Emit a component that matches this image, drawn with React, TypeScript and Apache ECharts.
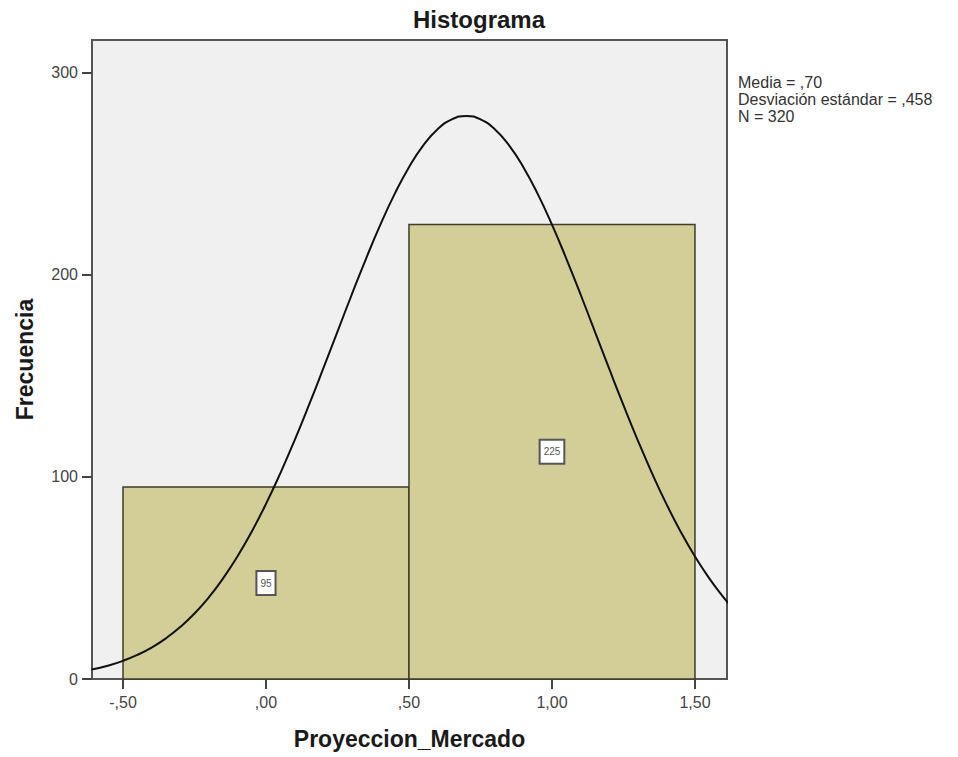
import React, { useEffect, useRef } from "react";
import * as echarts from "echarts";

const binStarts = [-0.5, 0.5];
const binEnds = [0.5, 1.5];
const counts = [95, 225];

const curveX = [
  -0.61, -0.55, -0.5, -0.45, -0.4, -0.35, -0.3, -0.25, -0.2, -0.15, -0.1, -0.05, 0, 0.05, 0.1, 0.15, 0.2, 0.25,
  0.3, 0.35, 0.4, 0.45, 0.5, 0.55, 0.6, 0.65, 0.7, 0.75, 0.8, 0.85, 0.9, 0.95, 1.0, 1.05, 1.1, 1.15, 1.2, 1.25,
  1.3, 1.35, 1.4, 1.45, 1.5, 1.55, 1.6, 1.62,
];
const curveY = [
  4.66, 6.72, 9.0, 11.91, 15.58, 20.13, 25.7, 32.42, 40.42, 49.8, 60.62, 72.92, 86.67, 101.8, 118.15, 135.52,
  153.58, 171.99, 190.33, 208.13, 224.9, 240.12, 253.35, 264.15, 272.14, 277.04, 278.7, 277.04, 272.14, 264.15,
  253.35, 240.12, 224.9, 208.13, 190.33, 171.99, 153.58, 135.52, 118.15, 101.8, 86.67, 72.92, 60.62, 49.8,
  40.42, 37.06,
];

const xTickValues = [-0.5, 0, 0.5, 1, 1.5];
const xTickLabels = ["-,50", ",00", ",50", "1,00", "1,50"];
const yTickValues = [0, 100, 200, 300];
const yTickLabels = ["0", "100", "200", "300"];

const statsLines = ["Media = ,70", "Desviación estándar = ,458", "N = 320"];

const titleText = "Histograma";
const xName = "Proyeccion_Mercado";
const yName = "Frecuencia";

const FONT = "'Liberation Sans', Arial, sans-serif";

export default function App() {
  const ref = useRef<HTMLDivElement>(null);
  useEffect(() => {
    if (!ref.current) return;
    const chart = echarts.init(ref.current, undefined, { renderer: "svg" });
    const binData = binStarts.map((s, i) => [s, binEnds[i], counts[i]]);
    const curveData = curveX.map((x, i) => [x, curveY[i]]);
    chart.setOption({
      animation: false,
      backgroundColor: "#ffffff",
      textStyle: { fontFamily: FONT },
      title: {
        text: titleText,
        left: "center",
        top: 2,
        textStyle: { fontFamily: FONT, fontSize: 24, fontWeight: "bold", color: "#1a1a1a" },
      },
      graphic: [
        {
          type: "text",
          left: 738,
          top: 74,
          style: {
            text: statsLines.join("\n"),
            fontFamily: FONT,
            fontSize: 16,
            lineHeight: 17,
            fill: "#333",
          },
        },
      ],
      grid: {
        left: 92,
        right: 231,
        top: 40,
        bottom: 78,
        containLabel: false,
        outerBoundsMode: "none",
        show: true,
        backgroundColor: "#f0f0f0",
        borderColor: "#555",
        borderWidth: 2,
      },
      xAxis: {
        type: "value",
        min: -0.6084,
        max: 1.612,
        splitLine: { show: false },
        axisLine: { show: true, onZero: false, lineStyle: { color: "#555", width: 2 } },
        axisTick: { show: true, length: 10, customValues: xTickValues, lineStyle: { color: "#444", width: 2 } },
        axisLabel: {
          customValues: xTickValues,
          formatter: (v: number) => {
            const i = xTickValues.findIndex((t) => Math.abs(t - v) < 1e-6);
            return i >= 0 ? xTickLabels[i] : "";
          },
          fontSize: 16,
          color: "#444",
          margin: 15,
          fontFamily: FONT,
        },
        name: xName,
        nameLocation: "middle",
        nameGap: 48,
        nameMoveOverlap: false,
        nameTextStyle: { fontFamily: FONT, fontSize: 23, fontWeight: "bold", color: "#1a1a1a" },
      },
      yAxis: {
        type: "value",
        min: 0,
        max: 316.3,
        splitLine: { show: false },
        axisLine: { show: true, onZero: false, lineStyle: { color: "#555", width: 2 } },
        axisTick: { show: true, length: 10, customValues: yTickValues, lineStyle: { color: "#444", width: 2 } },
        axisLabel: {
          customValues: yTickValues,
          formatter: (v: number) => {
            const i = yTickValues.findIndex((t) => Math.abs(t - v) < 1e-6);
            return i >= 0 ? yTickLabels[i] : "";
          },
          fontSize: 16,
          color: "#444",
          margin: 14,
          fontFamily: FONT,
        },
        name: yName,
        nameLocation: "middle",
        nameRotate: 90,
        nameGap: 56,
        nameMoveOverlap: false,
        nameTextStyle: { fontFamily: FONT, fontSize: 23, fontWeight: "bold", color: "#1a1a1a" },
      },
      series: [
        {
          type: "custom",
          z: 2,
          data: binData,
          encode: { x: [0, 1], y: 2 },
          renderItem: (params: any, api: any) => {
            const s = api.value(0);
            const e = api.value(1);
            const c = api.value(2);
            const p0 = api.coord([s, c]);
            const p1 = api.coord([e, 0]);
            const mid = api.coord([(s + e) / 2, c / 2]);
            return {
              type: "group",
              children: [
                {
                  type: "rect",
                  shape: { x: p0[0], y: p0[1], width: p1[0] - p0[0], height: p1[1] - p0[1] },
                  style: { fill: "#d3ce98", stroke: "#3d3d29", lineWidth: 1.5 },
                },
                {
                  type: "text",
                  x: mid[0],
                  y: mid[1],
                  style: {
                    text: String(c),
                    fill: "#555",
                    fontSize: 10,
                    fontFamily: FONT,
                    align: "center",
                    verticalAlign: "middle",
                    backgroundColor: "#ffffff",
                    borderColor: "#555",
                    borderWidth: 2,
                    padding: [6, 3],
                  },
                },
              ],
            };
          },
        },
        {
          type: "line",
          z: 3,
          data: curveData,
          smooth: true,
          showSymbol: false,
          symbol: "none",
          lineStyle: { color: "#111", width: 2 },
        },
      ],
    });
    return () => chart.dispose();
  }, []);
  return <div ref={ref} style={{ position: "absolute", left: 0, top: 0, width: 958, height: 757 }} />;
}
